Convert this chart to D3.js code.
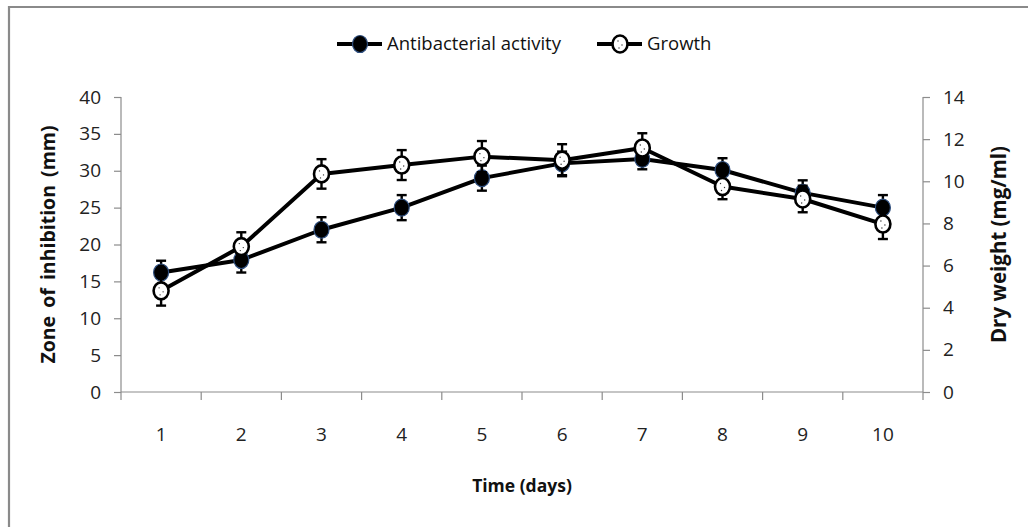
<!DOCTYPE html>
<html>
<head>
<meta charset="utf-8">
<script src="https://cdn.jsdelivr.net/npm/d3@7"></script>
<style>
  html, body { margin: 0; padding: 0; background: #fff; }
  svg { display: block; font-family: "Open Sans", sans-serif; }
  .axis .domain, .axis .tick line { stroke: #8c8c8c; stroke-width: 1.2; }
  .axis text { fill: #222; font-size: 19px; font-family: "Open Sans", sans-serif; }
</style>
</head>
<body>
<div id="chart"></div>
<script>
// Antibacterial activity vs growth over 10 days, dual y axes.

const days = [1, 2, 3, 4, 5, 6, 7, 8, 9, 10];
const inhibition = [16.2, 17.9, 22, 25, 29, 31, 31.6, 30.1, 27, 25];   // mm, left axis
const inhibitionErr = [1.6, 1.7, 1.7, 1.7, 1.7, 1.6, 1.4, 1.6, 1.7, 1.7];
const dryWeight = [4.8, 6.9, 10.35, 10.77, 11.17, 11.0, 11.58, 9.75, 9.16, 7.97]; // mg/ml, right axis
const dryWeightErr = [0.7, 0.68, 0.7, 0.71, 0.74, 0.76, 0.7, 0.6, 0.63, 0.71];
const leftTicks = [0, 5, 10, 15, 20, 25, 30, 35, 40];
const rightTicks = [0, 2, 4, 6, 8, 10, 12, 14];

const width = 1028, height = 527;
const margin = { top: 97, right: 105, bottom: 135, left: 121 };

const svg = d3.select("#chart").append("svg")
  .attr("width", width).attr("height", height);

// outer frame (only top + left visible in the picture)
svg.append("path")
  .attr("d", `M9,${height + 5}V7H${width + 5}`)
  .attr("fill", "none").attr("stroke", "#8a8a8a").attr("stroke-width", 2.2);

const x = d3.scaleBand().domain(days).range([margin.left, width - margin.right]);
const yL = d3.scaleLinear().domain([0, 40]).range([height - margin.bottom, margin.top]);
const yR = d3.scaleLinear().domain([0, 14]).range([height - margin.bottom, margin.top]);
const cx = d => x(d) + x.bandwidth() / 2;
const y0 = yL(0);

// axes
const gL = svg.append("g").attr("class", "axis").attr("transform", `translate(${margin.left},0)`)
  .call(d3.axisLeft(yL).tickValues(leftTicks).tickSize(7).tickPadding(13));
const gR = svg.append("g").attr("class", "axis").attr("transform", `translate(${width - margin.right},0)`)
  .call(d3.axisRight(yR).tickValues(rightTicks).tickSize(7).tickPadding(13));
[gL, gR].forEach(g => g.select(".domain").attr("d", `M0,${yL(40)}V${y0}`));

const gX = svg.append("g").attr("class", "axis").attr("transform", `translate(0,${y0})`)
  .call(d3.axisBottom(x).tickSize(0).tickPadding(49));
gX.select(".domain").attr("d", `M${margin.left},0H${width - margin.right}`);
gX.selectAll(".tick text").attr("dy", "0");
gX.selectAll("line.bound")
  .data(d3.range(days.length + 1))
  .join("line").attr("class", "bound")
  .attr("x1", i => margin.left + i * x.step()).attr("x2", i => margin.left + i * x.step())
  .attr("y1", 0).attr("y2", 8)
  .attr("stroke", "#8c8c8c").attr("stroke-width", 1.2);

// axis titles
const titleStyle = t => t.attr("text-anchor", "middle").attr("dy", "0.35em")
  .attr("font-weight", 700).attr("fill", "#111");
svg.append("text")
  .attr("transform", `translate(48,${(yL(40) + y0) / 2}) rotate(-90)`)
  .call(titleStyle).attr("font-size", 19.5).attr("word-spacing", 3)
  .text("Zone of inhibition (mm)");
svg.append("text")
  .attr("transform", `translate(999,${(yL(40) + y0) / 2}) rotate(-90)`)
  .call(titleStyle).attr("font-size", 20.5)
  .text("Dry weight (mg/ml)");
svg.append("text")
  .attr("x", (margin.left + width - margin.right) / 2).attr("y", 486)
  .call(titleStyle).attr("font-size", 17.5)
  .text("Time (days)");

// series
const series = [
  { name: "Antibacterial activity", vals: inhibition, err: inhibitionErr, y: yL, open: false },
  { name: "Growth", vals: dryWeight, err: dryWeightErr, y: yR, open: true }
];

function marker(g, open) {
  g.append("ellipse").attr("rx", 7.5).attr("ry", 8.5)
    .attr("fill", open ? "#fff" : "#000")
    .attr("stroke", open ? "#000" : "#2f4f7f")
    .attr("stroke-width", open ? 2.6 : 1.2);
  if (open) {
    [[-2, -3], [2, 1], [-1, 4]].forEach(([dx, dy]) =>
      g.append("circle").attr("cx", dx).attr("cy", dy).attr("r", 0.7).attr("fill", "#333"));
  }
}

series.forEach(s => {
  const g = svg.append("g");
  g.append("path")
    .datum(days)
    .attr("fill", "none").attr("stroke", "#000").attr("stroke-width", 4)
    .attr("stroke-linejoin", "round")
    .attr("d", d3.line().x(d => cx(d)).y((d, i) => s.y(s.vals[i])));

  const eb = g.selectAll("g.err").data(days).join("g").attr("class", "err")
    .attr("stroke", "#000").attr("stroke-width", 2.4);
  eb.append("line")
    .attr("x1", d => cx(d)).attr("x2", d => cx(d))
    .attr("y1", (d, i) => s.y(s.vals[i] - s.err[i])).attr("y2", (d, i) => s.y(s.vals[i] + s.err[i]));
  [-1, 1].forEach(sign => eb.append("line")
    .attr("x1", d => cx(d) - 5).attr("x2", d => cx(d) + 5)
    .attr("y1", (d, i) => s.y(s.vals[i] + sign * s.err[i]))
    .attr("y2", (d, i) => s.y(s.vals[i] + sign * s.err[i])));

  g.selectAll("g.pt").data(days).join("g").attr("class", "pt")
    .attr("transform", (d, i) => `translate(${cx(d)},${s.y(s.vals[i])})`)
    .each(function () { marker(d3.select(this), s.open); });
});

// legend
const legend = [
  { name: "Antibacterial activity", open: false, x0: 337 },
  { name: "Growth", open: true, x0: 597 }
];
legend.forEach(l => {
  const g = svg.append("g").attr("transform", `translate(${l.x0},44)`);
  g.append("line").attr("x1", 0).attr("x2", 45).attr("stroke", "#000").attr("stroke-width", 4);
  const m = g.append("g").attr("transform", "translate(23,0)");
  marker(m, l.open);
  g.append("text").attr("x", 50).attr("dy", "0.35em")
    .attr("font-size", 18.5).attr("fill", "#111").text(l.name);
});
</script>
</body>
</html>
